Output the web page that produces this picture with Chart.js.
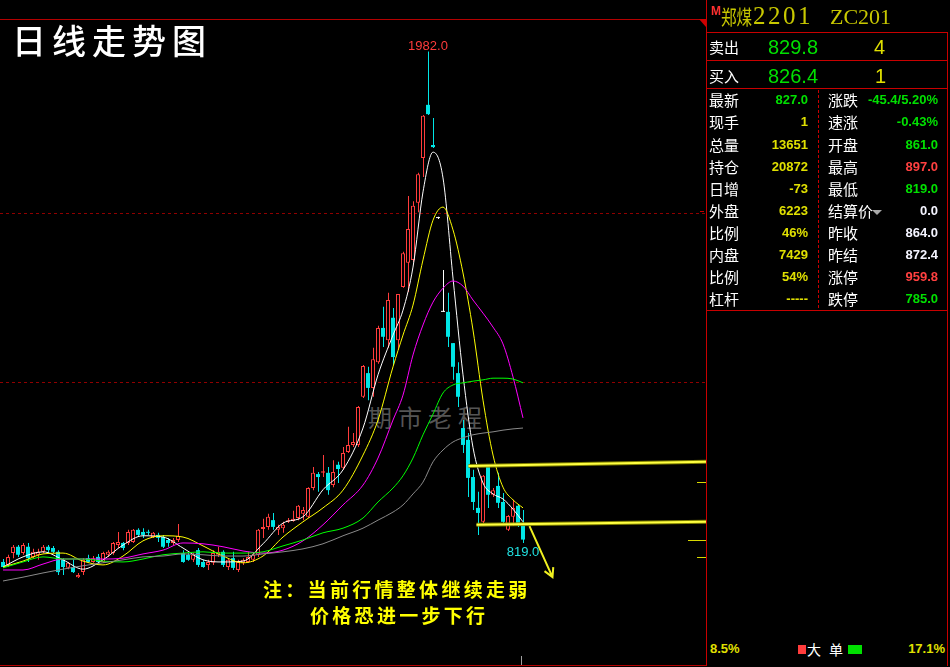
<!DOCTYPE html>
<html><head><meta charset="utf-8">
<script src="https://cdn.jsdelivr.net/npm/chart.js@4.4.1/dist/chart.umd.min.js"></script>
<style>
*{box-sizing:border-box}
html,body{margin:0;padding:0;background:#000;}
#wrap{position:relative;width:950px;height:667px;overflow:hidden;background:#000;font-family:"Noto Sans CJK SC","Noto Sans",sans-serif;}
.a{position:absolute;white-space:nowrap;}
.hl{position:absolute;height:1px;background:#c80000;}
.vl{position:absolute;width:1px;background:#c80000;}
.lab{position:absolute;color:#fff;font-size:15px;line-height:18px;}
.val{position:absolute;font:bold 13px "Liberation Sans",Arial,sans-serif;line-height:18px;text-align:right;}
.g{color:#00e000}.y{color:#e0e000}.r{color:#ff4040}.w{color:#f4f4ff}
</style></head><body><div id="wrap">
<div class="a" style="left:368px;top:402px;font-size:24px;line-height:30px;letter-spacing:6px;color:#555555;">期市老程</div>
<canvas id="cv" width="706" height="667" style="position:absolute;left:0;top:0;width:706px;height:667px"></canvas>
<div class="hl" style="left:0;top:19px;width:706px;background:#b40000"></div>
<div class="hl" style="left:0;top:665px;width:707px;background:#b40000"></div>
<div class="a" style="left:12px;top:20px;font-size:34px;line-height:40px;letter-spacing:6px;color:#fff;font-weight:500;">日线走势图</div>
<div class="a" style="left:263px;top:578px;font-size:19px;line-height:22px;letter-spacing:3.3px;color:#ffff00;font-weight:bold;">注：当前行情整体继续走弱</div>
<div class="a" style="left:310px;top:604px;font-size:19px;line-height:22px;letter-spacing:3.3px;color:#ffff00;font-weight:bold;">价格恐进一步下行</div>
<div class="a" style="left:521px;top:656px;width:1px;height:9px;background:#a0a0a0"></div>

<!-- right panel -->
<div class="vl" style="left:706px;top:0;height:666px"></div>
<div class="vl" style="left:947px;top:32px;height:634px"></div>
<div class="a" style="left:699px;top:19px;width:0;height:0;border-top:8px solid #d00000;border-left:7px solid transparent"></div>
<div class="a" style="left:700px;top:211px;width:4px;height:1px;background:#c80000"></div>
<div class="hl" style="left:706px;top:32px;width:242px"></div>
<div class="hl" style="left:706px;top:60px;width:242px"></div>
<div class="hl" style="left:706px;top:88px;width:242px"></div>
<div class="hl" style="left:706px;top:310px;width:242px"></div>
<div class="a" style="left:818px;top:90px;height:218px;border-left:1px dashed #c80000"></div>

<div class="a" style="left:711px;top:4px;font:bold 12px 'Liberation Sans',Arial;color:#ff3030">M</div>
<div class="a" style="left:721px;top:5px;font-size:20px;line-height:24px;color:#c8c800;transform:scaleX(0.78);transform-origin:0 0">郑煤</div>
<div class="a" style="left:753px;top:2px;font:25px/28px 'Liberation Serif',serif;letter-spacing:2.5px;color:#c8c800">2201</div>
<div class="a" style="left:830px;top:3px;font:22px/27px 'Liberation Serif',serif;color:#c8c800">ZC201</div>

<div class="lab" style="left:709px;top:38px">卖出</div>
<div class="a g" style="left:768px;top:35px;font:20px/24px 'Liberation Sans',Arial">829.8</div>
<div class="a y" style="left:874px;top:35px;font:20px/24px 'Liberation Sans',Arial">4</div>
<div class="lab" style="left:709px;top:67px">买入</div>
<div class="a g" style="left:768px;top:64px;font:20px/24px 'Liberation Sans',Arial">826.4</div>
<div class="a y" style="left:875px;top:64px;font:20px/24px 'Liberation Sans',Arial">1</div>

<div class="lab" style="left:709px;top:91px">最新</div><div class="val g" style="right:142px;top:91px">827.0</div>
<div class="lab" style="left:828px;top:91px">涨跌</div><div class="val g" style="right:12px;top:91px">-45.4/5.20%</div>
<div class="lab" style="left:709px;top:113px">现手</div><div class="val y" style="right:142px;top:113px">1</div>
<div class="lab" style="left:828px;top:113px">速涨</div><div class="val g" style="right:12px;top:113px">-0.43%</div>
<div class="lab" style="left:709px;top:136px">总量</div><div class="val y" style="right:142px;top:136px">13651</div>
<div class="lab" style="left:828px;top:136px">开盘</div><div class="val g" style="right:12px;top:136px">861.0</div>
<div class="lab" style="left:709px;top:158px">持仓</div><div class="val y" style="right:142px;top:158px">20872</div>
<div class="lab" style="left:828px;top:158px">最高</div><div class="val r" style="right:12px;top:158px">897.0</div>
<div class="lab" style="left:709px;top:180px">日增</div><div class="val y" style="right:142px;top:180px">-73</div>
<div class="lab" style="left:828px;top:180px">最低</div><div class="val g" style="right:12px;top:180px">819.0</div>
<div class="lab" style="left:709px;top:202px">外盘</div><div class="val y" style="right:142px;top:202px">6223</div>
<div class="lab" style="left:828px;top:202px">结算价</div>
<div class="a" style="left:872px;top:210px;width:0;height:0;border-top:5px solid #a8a8a8;border-left:5px solid transparent;border-right:5px solid transparent"></div>
<div class="val w" style="right:12px;top:202px">0.0</div>
<div class="lab" style="left:709px;top:224px">比例</div><div class="val y" style="right:142px;top:224px">46%</div>
<div class="lab" style="left:828px;top:224px">昨收</div><div class="val w" style="right:12px;top:224px">864.0</div>
<div class="lab" style="left:709px;top:246px">内盘</div><div class="val y" style="right:142px;top:246px">7429</div>
<div class="lab" style="left:828px;top:246px">昨结</div><div class="val w" style="right:12px;top:246px">872.4</div>
<div class="lab" style="left:709px;top:268px">比例</div><div class="val y" style="right:142px;top:268px">54%</div>
<div class="lab" style="left:828px;top:268px">涨停</div><div class="val r" style="right:12px;top:268px">959.8</div>
<div class="lab" style="left:709px;top:290px">杠杆</div><div class="val y" style="right:142px;top:290px">-----</div>
<div class="lab" style="left:828px;top:290px">跌停</div><div class="val g" style="right:12px;top:290px">785.0</div>

<div class="val y" style="left:710px;top:640px;text-align:left">8.5%</div>
<div class="a" style="left:798px;top:645px;width:8px;height:9px;background:#ff3c3c"></div>
<div class="lab" style="left:807px;top:640px;font-size:14px">大</div>
<div class="lab" style="left:829px;top:640px;font-size:14px">单</div>
<div class="a" style="left:848px;top:645px;width:14px;height:9px;background:#00e000"></div>
<div class="val y" style="right:5px;top:640px">17.1%</div>
</div>
<script>
// ---- candle data (daily OHLC) ----
const opens = [774,767,795,810,795,810,786,791,798,810,
807,798,779,760,762,738,750,783,774,786,
774,791,795,814,819,819,821,850,845,845,
833,838,833,826,819,826,795,791,779,802,
774,767,772,791,798,762,783,755,772,774,
779,791,852,857,873,850,854,869,871,878,
888,881,949,982,985,985,956,1004,997,1034,
1051,1051,1165,1221,1186,1247,1328,1299,1352,1299,
1425,1482,1489,1624,1730,1856,1761,1588,1366,1366,
1292,1221,1091,1063,975,902,869,999,933,954,
916,850,881,907,861];
const highs = [781,791,814,814,819,819,805,805,814,814,
812,802,783,774,779,748,783,791,788,793,
798,802,821,845,821,850,852,854,854,850,
845,843,838,831,831,864,802,795,795,807,
779,779,802,810,802,783,798,779,783,798,
795,852,876,888,890,862,869,878,895,909,
904,951,999,987,1027,999,1015,1011,1046,1094,
1079,1143,1240,1236,1281,1333,1378,1411,1375,1408,
1508,1640,1628,1695,1832,1982,1825,1591,1465,1411,
1292,1247,1110,1079,992,940,980,999,949,985,
937,885,921,909,897];
const lows = [760,762,783,786,791,774,783,779,795,795,
795,743,743,757,748,736,743,772,772,772,
772,786,791,807,802,814,819,833,831,838,
831,821,807,810,814,821,772,777,774,762,
760,755,767,786,762,755,755,750,767,772,
774,786,831,850,850,838,843,866,869,873,
873,878,944,940,975,933,951,961,992,1032,
1046,1046,1162,1157,1165,1243,1283,1281,1240,1276,
1423,1413,1484,1602,1685,1832,1754,1586,1366,1283,
1205,1141,1032,928,897,838,866,902,928,902,
866,847,859,857,819];
const closes = [762,786,810,791,814,783,798,798,810,802,
798,750,762,772,750,743,779,774,783,774,
795,798,819,821,807,845,850,838,838,843,
843,831,810,819,826,836,774,779,791,767,
762,774,795,798,767,779,760,774,779,786,
791,850,857,881,857,857,862,873,876,907,
897,949,985,975,989,944,987,994,1032,1051,
1058,1141,1238,1186,1254,1328,1307,1394,1259,1408,
1505,1562,1617,1692,1830,1834,1756,1588,1366,1307,
1236,1165,1051,973,916,890,978,933,944,914,
869,883,902,864,827];

// ---- moving-average lines, read at these candle positions ----
const maIdx = [0,4,8,12,16,20,24,28,32,36,40,44,48,52,56,60,64,68,72,75,78,80,82,84,86,88,90,92,94,96,98,100,102,104];
const ma5  = [762,786,798,779,757,779,814,836,833,807,779,774,776,817,866,881,945,992,1091,1217,1311,1370,1472,1650,1744,1683,1446,1217,1045,961,935,923,899,869];
const ma10 = [762,776,793,795,776,767,788,824,836,833,812,788,772,788,833,869,902,944,1027,1110,1236,1311,1382,1489,1583,1614,1560,1458,1323,1157,1027,951,921,902];
const ma20 = [755,755,769,781,781,781,783,793,802,819,817,810,800,795,802,824,862,909,956,1020,1110,1169,1264,1335,1389,1422,1439,1427,1394,1363,1330,1290,1212,1115];
const ma40 = [760,774,786,781,781,776,774,781,791,795,798,795,795,798,812,826,843,854,878,916,949,978,1020,1075,1124,1174,1193,1198,1202,1205,1209,1209,1207,1198];
const ma60 = [729,738,748,757,765,772,779,786,788,793,791,788,788,793,798,805,817,836,854,873,892,909,935,963,1011,1039,1058,1068,1075,1079,1082,1086,1089,1091];

// ---- annotation values ----
const refLevels = [1600, 1200];
const supStartIdx = [93.1, 94.7];
const supStartPrice = [1001, 862];
const supEndPrice = [1011, 869];
const arrowFrom = [105.3, 859];
const arrowTo = [109.9, 738];
const hiLabelIdx = 85;
const loLabelIdx = 104;
const sideMarkPrices = [963, 826, 786];
const sideMarkLen = [9, 18, 9];

const UP = '#ff3c3c', DN = '#00e6e6', FLAT = '#ffffff';
const dir = i => closes[i] > opens[i] ? 1 : (closes[i] < opens[i] ? -1 : 0);
const col = i => dir(i) > 0 ? UP : (dir(i) < 0 ? DN : FLAT);

const wickData = highs.map((h, i) => ({x: i, y: [lows[i], h]}));
const bodyData = opens.map((o, i) => ({x: i, y: [o, closes[i]]}));
const maData = arr => maIdx.map((x, k) => ({x, y: arr[k]}));

const overlay = {
  id: 'overlay',
  beforeDatasetsDraw(chart) {
    const {ctx, chartArea: a, scales: {y}} = chart;
    ctx.save();
    ctx.strokeStyle = '#900000'; ctx.lineWidth = 1; ctx.setLineDash([3, 3]);
    refLevels.forEach(v => {
      const py = Math.round(y.getPixelForValue(v)) + 0.5;
      ctx.beginPath(); ctx.moveTo(a.left, py); ctx.lineTo(a.right, py); ctx.stroke();
    });
    ctx.restore();
  },
  afterDatasetsDraw(chart) {
    const {ctx, chartArea: a, scales: {x, y}} = chart;
    ctx.save();
    for (let k = 0; k < supStartIdx.length; k++) {
      const x1 = x.getPixelForValue(supStartIdx[k]), y1 = y.getPixelForValue(supStartPrice[k]);
      const x2 = a.right + 1, y2 = y.getPixelForValue(supEndPrice[k]);
      ctx.lineCap = 'butt';
      ctx.strokeStyle = 'rgba(140,140,0,0.9)'; ctx.lineWidth = 4;
      ctx.beginPath(); ctx.moveTo(x1, y1); ctx.lineTo(x2, y2); ctx.stroke();
      ctx.strokeStyle = '#ffff40'; ctx.lineWidth = 2;
      ctx.beginPath(); ctx.moveTo(x1, y1); ctx.lineTo(x2, y2); ctx.stroke();
    }
    const ax1 = x.getPixelForValue(arrowFrom[0]), ay1 = y.getPixelForValue(arrowFrom[1]);
    const ax2 = x.getPixelForValue(arrowTo[0]), ay2 = y.getPixelForValue(arrowTo[1]);
    const ang = Math.atan2(ay2 - ay1, ax2 - ax1);
    ctx.strokeStyle = '#f0f020'; ctx.lineWidth = 2;
    ctx.beginPath(); ctx.moveTo(ax1, ay1); ctx.lineTo(ax2, ay2);
    ctx.moveTo(ax2 - 10 * Math.cos(ang - 0.5), ay2 - 10 * Math.sin(ang - 0.5)); ctx.lineTo(ax2, ay2);
    ctx.lineTo(ax2 - 10 * Math.cos(ang + 0.5), ay2 - 10 * Math.sin(ang + 0.5));
    ctx.stroke();
    ctx.strokeStyle = '#d8d800'; ctx.lineWidth = 1;
    sideMarkPrices.forEach((p, k) => {
      const py = Math.round(y.getPixelForValue(p)) + 0.5;
      ctx.beginPath(); ctx.moveTo(a.right - sideMarkLen[k], py); ctx.lineTo(a.right, py); ctx.stroke();
    });
    ctx.font = '13px "Liberation Sans", Arial, sans-serif';
    ctx.textAlign = 'center'; ctx.textBaseline = 'alphabetic';
    ctx.fillStyle = '#ff3c3c';
    ctx.fillText(highs[hiLabelIdx].toFixed(1), x.getPixelForValue(hiLabelIdx), y.getPixelForValue(highs[hiLabelIdx]) - 2);
    ctx.fillStyle = '#20e0e0';
    ctx.fillText(lows[loLabelIdx].toFixed(1), x.getPixelForValue(loLabelIdx), y.getPixelForValue(lows[loLabelIdx]) + 13);
    ctx.restore();
  }
};

const lineDs = (data, color) => ({
  type: 'line', data: maData(data), borderColor: color, borderWidth: 1,
  pointRadius: 0, cubicInterpolationMode: 'monotone', order: 1, fill: false
});

new Chart(document.getElementById('cv'), {
  type: 'bar',
  data: {
    datasets: [
      { data: wickData, xAxisID: 'x2', barThickness: 1, grouped: false, order: 3, inflateAmount: 0,
        backgroundColor: c => col(c.dataIndex), borderWidth: 0 },
      { data: bodyData, barThickness: 4, grouped: false, order: 2, inflateAmount: 0, minBarLength: 1,
        borderSkipped: false,
        backgroundColor: c => dir(c.dataIndex) > 0 ? '#000000' : col(c.dataIndex),
        borderColor: c => col(c.dataIndex),
        borderWidth: c => dir(c.dataIndex) > 0 ? 1 : 0 },
      lineDs(ma60, '#8a8a8a'),
      lineDs(ma40, '#00ff00'),
      lineDs(ma20, '#ff00ff'),
      lineDs(ma10, '#ffff00'),
      lineDs(ma5, '#ffffff')
    ]
  },
  options: {
    responsive: false, animation: false, events: [],
    layout: { padding: { top: 19, bottom: 2, left: 0, right: 0 } },
    plugins: { legend: { display: false }, tooltip: { enabled: false } },
    scales: {
      x:  { type: 'linear', min: -0.6, max: 140.6, display: false, offset: false },
      x2: { type: 'linear', axis: 'x', min: -0.7, max: 140.5, display: false, offset: false },
      y:  { type: 'linear', min: 530.1, max: 2059.2, display: false, beginAtZero: false }
    }
  },
  plugins: [overlay]
});
</script>
</body></html>
